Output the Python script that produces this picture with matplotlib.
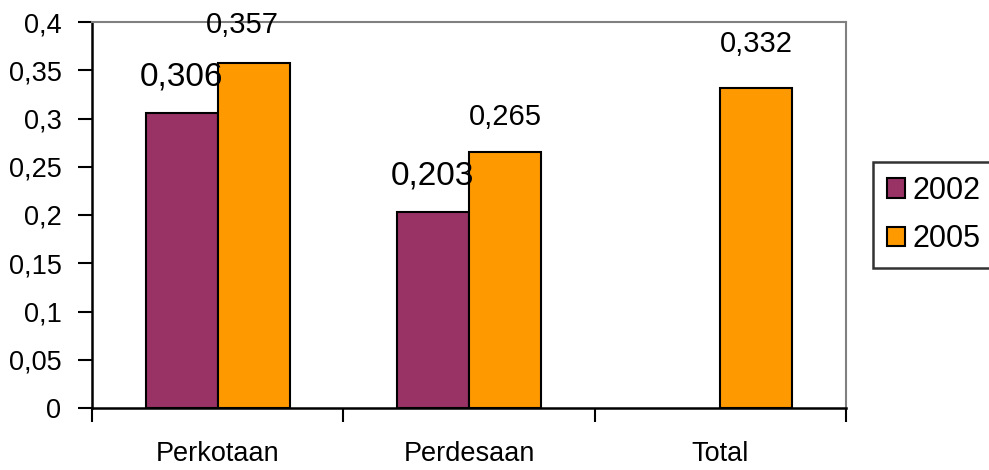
import matplotlib
matplotlib.use("Agg")
import matplotlib.pyplot as plt
import numpy as np
from matplotlib.ticker import FixedLocator, FuncFormatter

categories = ["Perkotaan", "Perdesaan", "Total"]
series_names = ["2002", "2005"]
values_2002 = [0.306, 0.203, np.nan]
values_2005 = [0.357, 0.265, 0.332]
label_2002 = ["0,306", "0,203", ""]
label_2005 = ["0,357", "0,265", "0,332"]
yticks = [0, 0.05, 0.1, 0.15, 0.2, 0.25, 0.3, 0.35, 0.4]
ytick_labels = ["0", "0,05", "0,1", "0,15", "0,2", "0,25", "0,3", "0,35", "0,4"]

REG = ["Liberation Sans", "DejaVu Sans"]

fig = plt.figure(figsize=(9.89, 4.70), dpi=100)
ax = fig.add_axes([92/989, 1-408/470, (846-92)/989, (408-22)/470])

centers = np.arange(len(categories)) + 0.5
w = 0.287
c1, c2 = "#993366", "#FF9900"
ax.bar(centers - w/2, values_2002, w, color=c1, edgecolor="black", linewidth=1.5, label=series_names[0])
ax.bar(centers + w/2, values_2005, w, color=c2, edgecolor="black", linewidth=1.5, label=series_names[1])

for i, (v, t) in enumerate(zip(values_2002, label_2002)):
    if t:
        ax.annotate(t, (centers[i] - w/2, v), xytext=(0, 36), textcoords="offset pixels",
                    ha="center", va="center", fontsize=24, family=REG)
xoffs = [-11, 0, 0]
yoffs = [38, 35, 44]
for i, (v, t) in enumerate(zip(values_2005, label_2005)):
    ax.annotate(t, (centers[i] + w/2, v), xytext=(xoffs[i], yoffs[i]), textcoords="offset pixels",
                ha="center", va="center", fontsize=21, family=REG)

ax.set_xlim(0, 3)
ax.set_ylim(0, 0.4)
ax.set_yticks(yticks)
ax.set_yticklabels(ytick_labels, fontsize=19.5, family=REG)
ax.xaxis.set_major_locator(FixedLocator([0, 1, 2, 3]))
ax.xaxis.set_major_formatter(FuncFormatter(lambda x, p: ""))
ax.xaxis.set_minor_locator(FixedLocator(list(centers)))
ax.set_xticklabels(categories, minor=True, fontsize=19.5, family=REG)
ax.tick_params(axis="x", which="minor", length=0, pad=24)
ax.tick_params(axis="x", which="major", length=10, width=1.5, direction="out")
ax.tick_params(axis="y", length=10, width=1.5, direction="out", pad=12)

for s in ["left", "bottom"]:
    ax.spines[s].set_linewidth(1.8)
    ax.spines[s].set_color("black")
for s in ["top", "right"]:
    ax.spines[s].set_linewidth(1.5)
    ax.spines[s].set_color("#808080")

leg = ax.legend(loc="upper left", bbox_to_anchor=(873/989, 1-162/470), bbox_transform=fig.transFigure,
                prop={"family": REG, "size": 22}, frameon=True, fancybox=False,
                handlelength=0.6, handleheight=0.6, handletextpad=0.25, borderpad=0.45,
                labelspacing=0.6, borderaxespad=0)
leg.get_frame().set_edgecolor("black")
leg.get_frame().set_linewidth(1.8)

fig.savefig("out.png", dpi=100)
